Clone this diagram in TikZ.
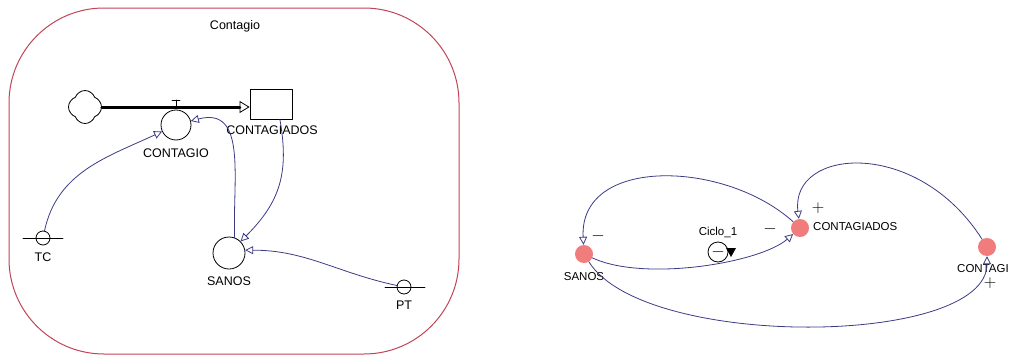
\documentclass[tikz,border=0pt]{standalone}
\usepackage{fontspec}
\setmainfont{Liberation Sans}
\usetikzlibrary{arrows.meta,shapes.symbols}
\definecolor{linkblue}{HTML}{3A3A85}
\definecolor{boxred}{HTML}{C04455}
\definecolor{dotred}{HTML}{F07C7C}
\tikzset{
  lbl/.style={font=\fontsize{12.5}{14}\selectfont, inner sep=0pt},
  rlbl/.style={font=\fontsize{11.5}{13}\selectfont, inner sep=0pt},
  sgn/.style={font=\fontsize{17}{18}\selectfont, inner sep=0pt},
  aux/.style={circle, draw, line width=0.8pt, minimum size=14pt, inner sep=0pt},
  dot/.style={circle, fill=dotred, minimum size=18pt, inner sep=0pt},
  link/.style={draw=linkblue, line width=0.8pt, -{Triangle[open, length=8pt, width=8pt, line width=0.8pt]}},
}
\begin{document}
\begin{tikzpicture}[x=1pt, y=1pt, line join=round, line cap=round]
	\useasboundingbox (0,0) rectangle (1011,-356);
	% model view
	\draw[boxred, line width=1pt, rounded corners=95pt] (9,-8) rectangle (459,-354);
	\node[lbl] (titulo) at (235,-26) {Contagio};
	\node[cloud, cloud puffs=4, cloud puff arc=140, aspect=1, shape border rotate=45, draw, line width=0.8pt, minimum width=33pt, minimum height=33pt, inner sep=0pt] (nube) at (85,-107) {};
	\node[draw, line width=0.8pt, minimum width=42pt, minimum height=30pt, inner sep=0pt] (stock) at (271,-104) {};
	\node[lbl] at (272,-130) {CONTAGIADOS};
	\node[circle, draw, line width=0.8pt, minimum size=30pt, inner sep=0pt] (contagio) at (176,-125) {};
	\node[lbl] at (176,-153) {CONTAGIO};
	\draw[line width=3pt, -{Triangle[open, length=10pt, width=12pt, line width=0.8pt]}] (nube) -- (stock.west |- 0,-107);
	\draw[line width=0.8pt] (176,-107) -- (176,-100) (172,-100) -- (180,-100);
	\node[aux] (tc) at (43,-238) {};
	\draw[line width=0.8pt] (23,-238) -- (63,-238);
	\node[lbl] at (43,-257) {TC};
	\node[circle, draw, line width=0.8pt, minimum size=32pt, inner sep=0pt] (sanos) at (229,-253) {};
	\node[lbl] at (229,-281) {SANOS};
	\node[aux] (pt) at (404,-287) {};
	\draw[line width=0.8pt] (385,-287) -- (425,-287);
	\node[lbl] at (404,-305) {PT};
	\draw[link] (tc) to[out=78, in=205] (contagio);
	\draw[link] (sanos.70) to[out=92, in=15, looseness=1.2] (contagio);
	\draw[link] (stock.-60) to[out=-80, in=45, looseness=1.1] (sanos.45);
	\draw[link] (pt) to[out=168, in=0] (sanos.10);
	% loop diagram
	\node[dot] (sanos2) at (584,-254) {};
	\node[rlbl] at (584,-277) {SANOS};
	\node[dot] (contagiados2) at (800,-228) {};
	\node[rlbl, anchor=west] at (813,-227) {CONTAGIADOS};
	\node[dot] (contagi2) at (987,-247) {};
	\node[rlbl, anchor=west] at (957,-269) {CONTAGI};
	\draw[link] (contagiados2) .. controls +(-75,68) and +(-5,98) .. (sanos2);
	\draw[link] (sanos2) .. controls +(60,-28) and +(-40,-35) .. (contagiados2);
	\draw[link] (contagi2) .. controls +(-70,110) and +(-10,80) .. (contagiados2);
	\draw[link] (sanos2) .. controls +(60,-96) and +(0,-100) .. (contagi2);
	\node[sgn] at (598,-236) {$-$};
	\node[sgn] at (770,-229) {$-$};
	\node[sgn] at (818,-208) {$+$};
	\node[sgn] at (990,-283) {$+$};
	\node[rlbl] (ciclo) at (718,-232) {Ciclo\_1};
	\node[circle, draw, line width=0.8pt, minimum size=20pt, inner sep=0pt, sgn] (signo) at (718,-252) {$-$};
	\fill (726,-248) -- (736,-248) -- (731,-257) -- cycle;
\end{tikzpicture}
\end{document}
